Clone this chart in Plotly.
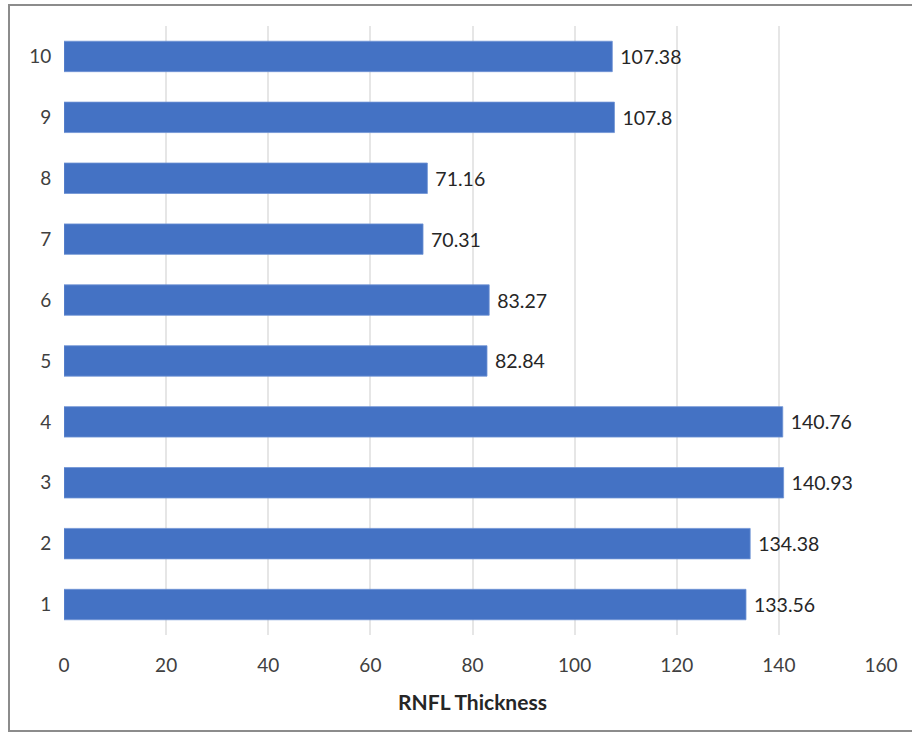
import plotly.graph_objects as go

categories = ["1", "2", "3", "4", "5", "6", "7", "8", "9", "10"]
values = [133.56, 134.38, 140.93, 140.76, 82.84, 83.27, 70.31, 71.16, 107.8, 107.38]
labels = ["133.56", "134.38", "140.93", "140.76", "82.84", "83.27", "70.31", "71.16", "107.8", "107.38"]
x_ticks = [0, 20, 40, 60, 80, 100, 120, 140, 160]

FONT = "Lato"
fig = go.Figure()
fig.add_trace(go.Bar(
    x=values, y=categories, orientation="h",
    marker=dict(color="#4472C4", line=dict(color="#6f93d4", width=0.8)),
    width=0.5,
    text=labels, texttemplate="\u00a0%{text}", textposition="outside", cliponaxis=False,
    textfont=dict(family=FONT, size=19.5, color="#262626"),
))

W, H = 912, 733
ml, mr, mt, mb = 64, 31, 26, 98
pw, ph = W - ml - mr, H - mt - mb

fig.update_layout(
    width=W, height=H,
    margin=dict(l=ml, r=mr, t=mt, b=mb, pad=0),
    plot_bgcolor="white", paper_bgcolor="white",
    showlegend=False,
    bargap=0.5,
    font=dict(family=FONT, size=19, color="#404040"),
    xaxis=dict(
        range=[0, 160], tickvals=x_ticks, showgrid=True, gridcolor="#e6e6e6", gridwidth=2,
        zeroline=False, showline=False,
        ticks="outside", ticklen=13, tickcolor="rgba(0,0,0,0)",
        tickfont=dict(family=FONT, size=19, color="#404040"),
        title=dict(text="<b>RNFL Thickness</b>", font=dict(family=FONT, size=21, color="#262626"), standoff=20),
        fixedrange=True,
    ),
    yaxis=dict(
        type="category", categoryorder="array", categoryarray=categories,
        range=[-0.5, 9.5], showgrid=False, zeroline=False, showline=False,
        ticks="outside", ticklen=8, tickcolor="rgba(0,0,0,0)",
        tickfont=dict(family=FONT, size=19, color="#404040"),
    ),
    shapes=[dict(
        type="rect", xref="paper", yref="paper",
        x0=(9 - ml) / pw, x1=(W + 20 - ml) / pw,
        y0=((H - mb) - 731) / ph, y1=((H - mb) - 5) / ph,
        line=dict(color="#8c8c8c", width=2), layer="below",
    )],
)

fig.write_html("out.html")
